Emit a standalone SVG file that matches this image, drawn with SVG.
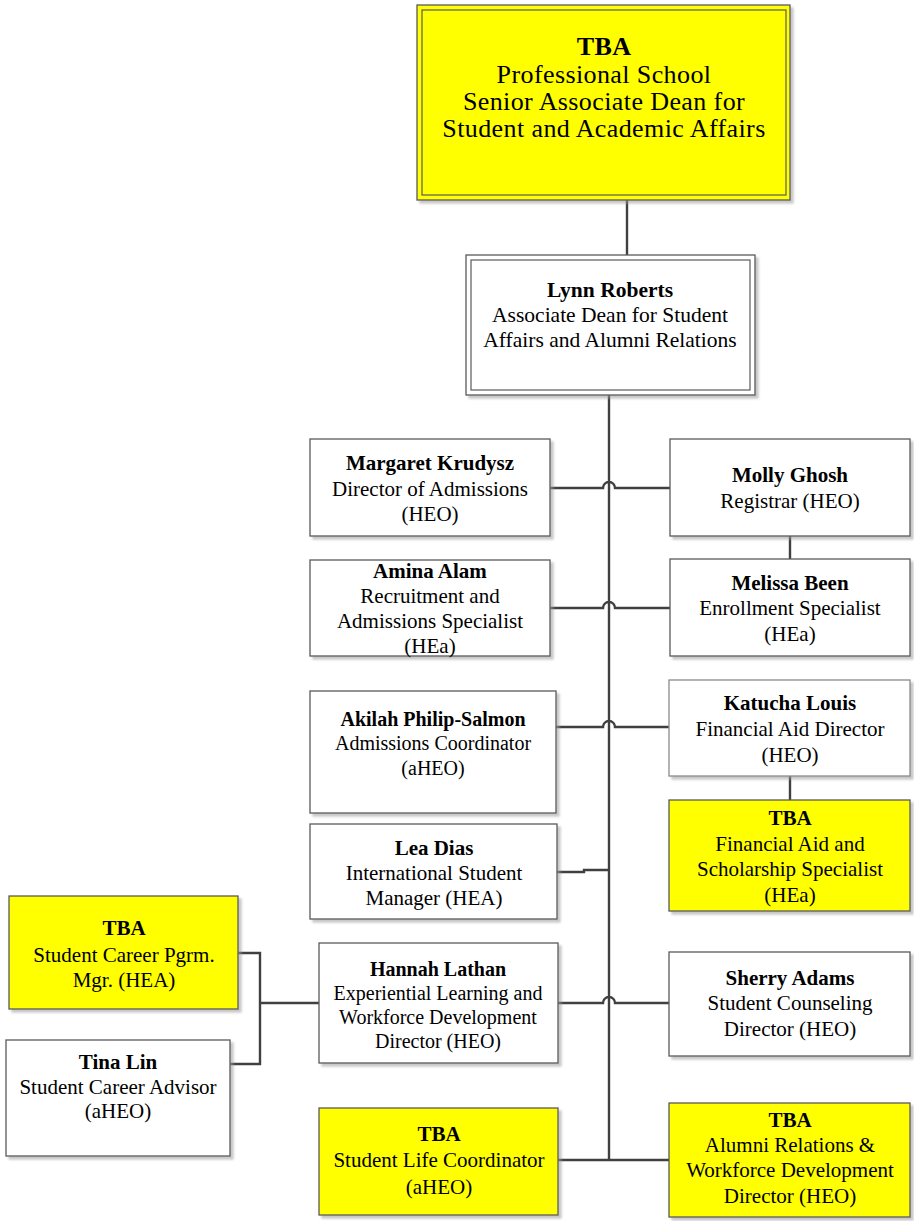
<svg xmlns="http://www.w3.org/2000/svg" width="914" height="1221" viewBox="0 0 914 1221">
  <defs>
    <filter id="shadow" x="-5%" y="-5%" width="115%" height="115%">
      <feDropShadow dx="3" dy="3" stdDeviation="1" flood-color="#9a9a9a" flood-opacity="0.55"/>
    </filter>
  </defs>
  <style>
    .box { fill: #ffffff; stroke: #5a5a5a; stroke-width: 1.3; }
    .tba { fill: #ffff00; stroke: #5a5a5a; stroke-width: 1.3; }
    .inner { fill: none; stroke: #5a5a5a; stroke-width: 1.2; }
    .sh { filter: url(#shadow); }
    text { font-family: "Liberation Serif", "Times New Roman", serif; font-size: 21px; fill: #000; text-anchor: middle; }
    .b { font-weight: bold; }
    .big { font-size: 26px; letter-spacing: 0.4px; }
    .lead { font-size: 21.5px; }
    .sm { font-size: 20px; }
    .wire { fill: none; stroke: #404040; stroke-width: 2.4; }
  </style>

  <!-- reporting lines -->
  <g id="connectors">
    <path class="wire" d="M627,200 V255"/>
    <path class="wire" d="M609,395 V1160"/>
    <path class="wire" d="M550,488 H603 A6,6 0 0 1 615,488 H670"/>
    <path class="wire" d="M550,608 H603 A6,6 0 0 1 615,608 H670"/>
    <path class="wire" d="M790,536 V559"/>
    <path class="wire" d="M556,727 H603 A6,6 0 0 1 615,727 H669"/>
    <path class="wire" d="M790,776 V800"/>
    <path class="wire" d="M557,872 H584 V870 H609"/>
    <path class="wire" d="M558,1003 H603 A6,6 0 0 1 615,1003 H669"/>
    <path class="wire" d="M319,1003 H260"/>
    <path class="wire" d="M238,953 H260 V1064 H230"/>
    <path class="wire" d="M558,1160 H669"/>
  </g>

  <g id="senior-associate-dean">
    <rect class="tba sh" x="417" y="5" width="373" height="195"/>
    <rect class="inner" x="422" y="10" width="364" height="185"/>
    <text class="big b" x="604" y="55">TBA</text>
    <text class="big" x="604" y="83">Professional School</text>
    <text class="big" x="604" y="110">Senior Associate Dean for</text>
    <text class="big" x="604" y="137">Student and Academic Affairs</text>
  </g>

  <g id="lynn-roberts">
    <rect class="box sh" x="466" y="255" width="289" height="140"/>
    <rect class="inner" x="471" y="260" width="279" height="130"/>
    <text class="b lead" x="610" y="297">Lynn Roberts</text>
    <text class="lead" x="610" y="322">Associate Dean for Student</text>
    <text class="lead" x="610" y="347">Affairs and Alumni Relations</text>
  </g>

  <g id="margaret-krudysz">
    <rect class="box sh" x="310" y="439" width="240" height="97"/>
    <text class="b" x="430" y="470">Margaret Krudysz</text>
    <text x="430" y="496">Director of Admissions</text>
    <text x="430" y="521">(HEO)</text>
  </g>

  <g id="molly-ghosh">
    <rect class="box sh" x="670" y="439" width="240" height="97"/>
    <text class="b" x="790" y="482">Molly Ghosh</text>
    <text x="790" y="508">Registrar (HEO)</text>
  </g>

  <g id="amina-alam">
    <rect class="box sh" x="310" y="560" width="240" height="96"/>
    <text class="b" x="430" y="578">Amina Alam</text>
    <text x="430" y="603">Recruitment and</text>
    <text x="430" y="628">Admissions Specialist</text>
    <text x="430" y="653">(HEa)</text>
  </g>

  <g id="melissa-been">
    <rect class="box sh" x="670" y="559" width="240" height="97"/>
    <text class="b" x="790" y="590">Melissa Been</text>
    <text x="790" y="615">Enrollment Specialist</text>
    <text x="790" y="641">(HEa)</text>
  </g>

  <g id="akilah-philip-salmon">
    <rect class="box sh" x="310" y="691" width="246" height="122"/>
    <text class="b sm" x="433" y="726">Akilah Philip-Salmon</text>
    <text class="sm" x="433" y="750">Admissions Coordinator</text>
    <text class="sm" x="433" y="775">(aHEO)</text>
  </g>

  <g id="katucha-louis">
    <rect class="box sh" x="669" y="680" width="241" height="96" style="stroke:#8a8a8a"/>
    <text class="b" x="790" y="710">Katucha Louis</text>
    <text x="790" y="736">Financial Aid Director</text>
    <text x="790" y="762">(HEO)</text>
  </g>

  <g id="financial-aid-specialist">
    <rect class="tba sh" x="669" y="800" width="241" height="111"/>
    <text class="b" x="790" y="825">TBA</text>
    <text x="790" y="851">Financial Aid and</text>
    <text x="790" y="876">Scholarship Specialist</text>
    <text x="790" y="902">(HEa)</text>
  </g>

  <g id="lea-dias">
    <rect class="box sh" x="310" y="824" width="247" height="95"/>
    <text class="b" x="434" y="855">Lea Dias</text>
    <text x="434" y="880">International Student</text>
    <text x="434" y="905">Manager (HEA)</text>
  </g>

  <g id="career-program-manager">
    <rect class="tba sh" x="9" y="896" width="229" height="113"/>
    <text class="b" x="124" y="935">TBA</text>
    <text x="124" y="962">Student Career Pgrm.</text>
    <text x="124" y="987">Mgr. (HEA)</text>
  </g>

  <g id="hannah-lathan">
    <rect class="box sh" x="319" y="943" width="239" height="120"/>
    <text class="b sm" x="438" y="976">Hannah Lathan</text>
    <text class="sm" x="438" y="1000">Experiential Learning and</text>
    <text class="sm" x="438" y="1024">Workforce Development</text>
    <text class="sm" x="438" y="1048">Director (HEO)</text>
  </g>

  <g id="sherry-adams">
    <rect class="box sh" x="669" y="952" width="241" height="104"/>
    <text class="b" x="790" y="985">Sherry Adams</text>
    <text x="790" y="1010">Student Counseling</text>
    <text x="790" y="1036">Director (HEO)</text>
  </g>

  <g id="tina-lin">
    <rect class="box sh" x="6" y="1040" width="224" height="116"/>
    <text class="b" x="118" y="1069">Tina Lin</text>
    <text x="118" y="1094">Student Career Advisor</text>
    <text x="118" y="1118">(aHEO)</text>
  </g>

  <g id="student-life-coordinator">
    <rect class="tba sh" x="319" y="1108" width="239" height="107"/>
    <text class="b" x="439" y="1141">TBA</text>
    <text x="439" y="1167">Student Life Coordinator</text>
    <text x="439" y="1194">(aHEO)</text>
  </g>

  <g id="alumni-relations-director">
    <rect class="tba sh" x="669" y="1103" width="241" height="114"/>
    <text class="b" x="790" y="1127">TBA</text>
    <text x="790" y="1152">Alumni Relations &amp;</text>
    <text x="790" y="1177">Workforce Development</text>
    <text x="790" y="1203">Director (HEO)</text>
  </g>
</svg>
